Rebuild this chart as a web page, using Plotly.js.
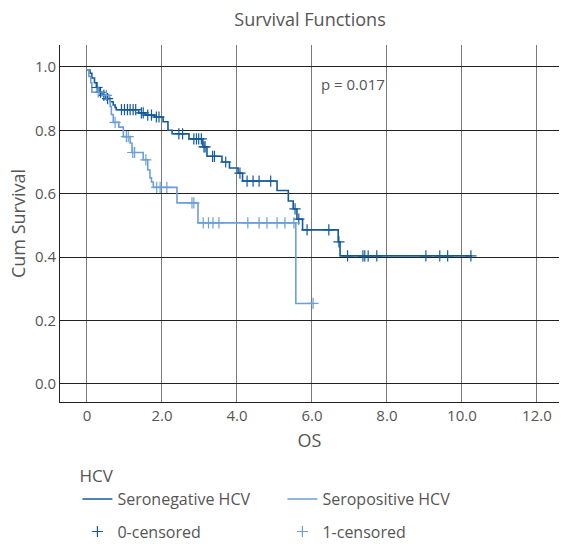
<!DOCTYPE html>
<html>
<head>
<meta charset="utf-8">
<script src="https://cdn.plot.ly/plotly-3.0.1.min.js"></script>
<style>html,body{margin:0;padding:0;background:#fff;}#chart{width:561px;height:544px;}</style>
</head>
<body>
<div id="chart"></div>
<script>
// Seronegative HCV: event times and survival after each step
const negTimes = [0, 0.08, 0.13, 0.2, 0.25, 0.32, 0.4, 0.5, 0.62, 0.7, 0.75, 0.78, 1.38, 1.55, 1.8, 2.03, 2.16, 2.27, 2.72, 3.09, 3.2, 3.6, 3.8, 4.03, 4.15, 5.07, 5.37, 5.5, 5.6, 5.75, 6.7, 6.75];
const negSurv  = [0.99, 0.98, 0.965, 0.95, 0.935, 0.92, 0.91, 0.9, 0.89, 0.88, 0.872, 0.865, 0.855, 0.848, 0.842, 0.827, 0.80, 0.789, 0.773, 0.748, 0.718, 0.70, 0.681, 0.665, 0.64, 0.61, 0.577, 0.552, 0.52, 0.486, 0.448, 0.404];
const negEnd = 10.27;
const negCensor = [0.27, 0.36, 0.45, 0.55, 0.92, 1.0, 1.08, 1.15, 1.23, 1.3, 1.45, 1.5, 1.62, 1.72, 1.85, 1.92, 2.45, 2.55, 2.85, 2.92, 2.98, 3.05, 3.12, 3.15, 3.35, 3.4, 3.7, 4.08, 4.27, 4.43, 4.59, 4.9, 5.55, 5.65, 5.87, 6.45, 6.72, 6.95, 7.36, 7.41, 7.5, 7.73, 9.04, 9.41, 9.62, 10.24];

// Seropositive HCV
const posTimes = [0, 0.05, 0.1, 0.13, 0.35, 0.6, 0.62, 0.65, 0.7, 0.85, 0.97, 1.15, 1.2, 1.5, 1.62, 1.68, 1.72, 1.77, 2.4, 2.96, 5.57];
const posSurv  = [0.99, 0.97, 0.95, 0.92, 0.91, 0.90, 0.875, 0.85, 0.825, 0.81, 0.78, 0.76, 0.73, 0.707, 0.675, 0.65, 0.637, 0.62, 0.571, 0.508, 0.254];
const posEnd = 6.03;
const posCensor = [0.3, 0.52, 0.75, 1.05, 1.1, 1.22, 1.27, 1.57, 1.86, 1.95, 2.13, 2.8, 2.85, 3.1, 3.24, 3.36, 3.52, 4.29, 4.59, 4.8, 5.07, 5.28, 5.52, 6.03];

const xTickVals = [0, 2, 4, 6, 8, 10, 12];
const xTickText = ['0', '2.0', '4.0', '6.0', '8.0', '10.0', '12.0'];
const yTickVals = [0, 0.2, 0.4, 0.6, 0.8, 1.0];
const yTickText = ['0.0', '0.2', '0.4', '0.6', '0.8', '1.0'];

const darkColor = '#135a9c';
const lightColor = '#6c9fd9';

function survAt(times, surv, t) {
  let v = surv[0];
  for (let i = 0; i < times.length; i++) { if (times[i] <= t) v = surv[i]; }
  return v;
}

const traces = [
  {x: negTimes.concat([negEnd]), y: negSurv.concat([negSurv[negSurv.length-1]]), mode: 'lines',
   line: {shape: 'hv', color: darkColor, width: 1.6}, name: 'Seronegative HCV', legend: 'legend'},
  {x: posTimes.concat([posEnd]), y: posSurv.concat([posSurv[posSurv.length-1]]), mode: 'lines',
   line: {shape: 'hv', color: lightColor, width: 1.6}, name: 'Seropositive HCV', legend: 'legend'},
  {x: negCensor, y: negCensor.map(t => survAt(negTimes, negSurv, t)), mode: 'markers',
   marker: {symbol: 'cross-thin', size: 8, line: {color: darkColor, width: 1.2}, color: darkColor},
   name: '0-censored', legend: 'legend2'},
  {x: posCensor, y: posCensor.map(t => survAt(posTimes, posSurv, t)), mode: 'markers',
   marker: {symbol: 'cross-thin', size: 8, line: {color: lightColor, width: 1.2}, color: lightColor},
   name: '1-censored', legend: 'legend2'}
];

const txt = '#555555';
const layout = {
  width: 561, height: 544,
  margin: {l: 60, r: 2, t: 45, b: 142},
  paper_bgcolor: '#fff', plot_bgcolor: '#fff',
  font: {family: 'Open Sans, sans-serif', color: txt, size: 15},
  title: {text: 'Survival Functions', x: 0.5526, xanchor: 'center', y: 0.963, yanchor: 'middle', font: {size: 18, color: txt}},
  xaxis: {range: [-0.72, 12.59], tickvals: xTickVals, ticktext: xTickText, showgrid: true, gridcolor: '#7a7a7a', gridwidth: 1,
          zeroline: false, showline: true, linecolor: '#222', linewidth: 1, ticks: '', tickfont: {size: 15, color: txt},
          automargin: false, title: {text: 'OS', font: {size: 18, color: txt}, standoff: 10}},
  yaxis: {range: [-0.0568, 1.069], tickvals: yTickVals, ticktext: yTickText, showgrid: true, gridcolor: '#222', gridwidth: 1,
          zeroline: false, showline: true, linecolor: '#222', linewidth: 1, ticks: '', tickfont: {size: 15, color: txt},
          automargin: false, title: {text: 'Cum Survival', font: {size: 18, color: txt}, standoff: 4}},
  showlegend: true,
  legend: {orientation: 'h', xref: 'container', yref: 'container', x: 0.138, xanchor: 'left', y: 0.1544, yanchor: 'top',
           entrywidth: 160, entrywidthmode: 'pixels',
           title: {text: 'HCV', side: 'top', font: {size: 17, color: txt}}, font: {size: 16, color: txt}, bgcolor: 'rgba(0,0,0,0)'},
  legend2: {orientation: 'h', xref: 'container', yref: 'container', x: 0.138, xanchor: 'left', y: 0.054, yanchor: 'top',
            entrywidth: 160, entrywidthmode: 'pixels',
            font: {size: 16, color: txt}, bgcolor: 'rgba(0,0,0,0)'},
  annotations: [{x: 7.1, y: 0.946, xref: 'x', yref: 'y', text: 'p = 0.017', showarrow: false, font: {size: 15, color: txt}}]
};

Plotly.newPlot('chart', traces, layout, {displayModeBar: false, staticPlot: true});
</script>
</body>
</html>
